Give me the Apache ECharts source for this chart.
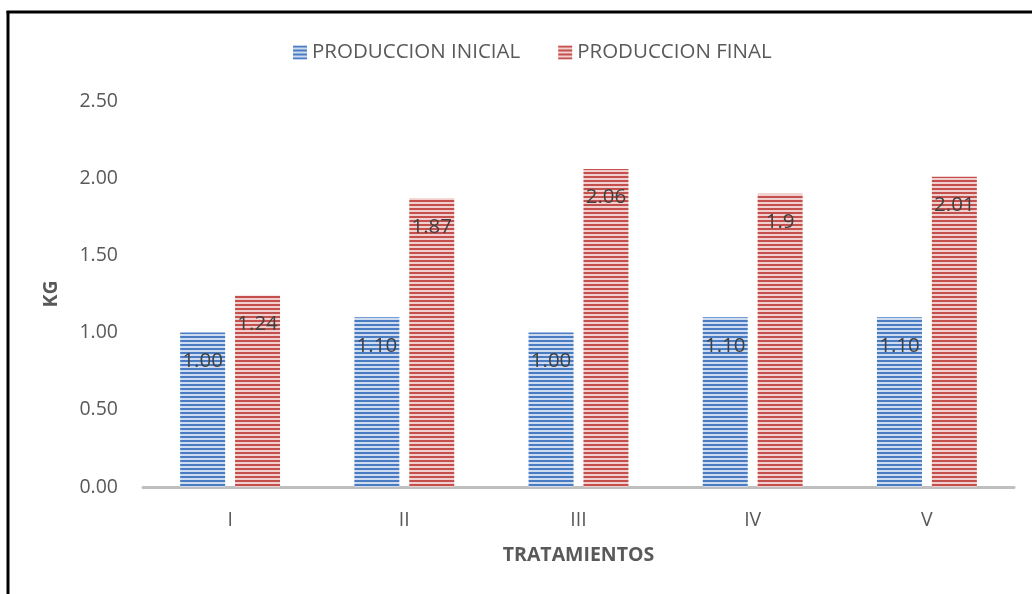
<!DOCTYPE html>
<html>
<head>
    <meta charset="utf-8">
    <title>Produccion</title>
    <script src="https://cdn.jsdelivr.net/npm/echarts@6/dist/echarts.min.js"></script>
    <style>
        html, body { margin: 0; padding: 0; background: #fff; }
        #chart { width: 1032px; height: 594px; }
    </style>
</head>
<body>
<div id="chart"></div>
<script>
    var categories = ['I', 'II', 'III', 'IV', 'V'];
    var inicial = [1.00, 1.10, 1.00, 1.10, 1.10];
    var final = [1.24, 1.87, 2.06, 1.9, 2.01];
    var yTicks = [0, 0.5, 1, 1.5, 2, 2.5];

    // rayas horizontales como en el original
    function stripes(dark, light) {
        var c = document.createElement('canvas');
        c.width = 4; c.height = 4;
        var ctx = c.getContext('2d');
        ctx.fillStyle = light;
        ctx.fillRect(0, 0, 4, 4);
        ctx.fillStyle = dark;
        ctx.fillRect(0, 0, 4, 2);
        return { image: c, repeat: 'repeat' };
    }
    var blue = stripes('#4a7cc4', '#cfdcf0');
    var red = stripes('#c4504e', '#f0cfce');

    var font = '"Open Sans", "Liberation Sans", sans-serif';
    var chart = echarts.init(document.getElementById('chart'));
    chart.setOption({
        animation: false,
        textStyle: { fontFamily: font },
        graphic: [{
            type: 'line',
            shape: { x1: 8, y1: 11, x2: 8, y2: 594 },
            style: { stroke: '#000', lineWidth: 3 }
        }, {
            type: 'line',
            shape: { x1: 6.5, y1: 12, x2: 1032, y2: 12 },
            style: { stroke: '#000', lineWidth: 3 }
        }],
        legend: {
            top: 37,
            left: 288,
            itemWidth: 14,
            itemHeight: 14,
            itemGap: 38,
            icon: 'rect',
            textStyle: { fontSize: 20.5, color: '#595959', fontFamily: font },
            data: ['PRODUCCION INICIAL', 'PRODUCCION FINAL']
        },
        grid: { left: 143, right: 18, top: 101, bottom: 107 },
        xAxis: {
            type: 'category',
            data: categories,
            name: 'TRATAMIENTOS',
            nameLocation: 'middle',
            nameGap: 58,
            nameTextStyle: { fontSize: 19.5, fontWeight: 'bold', color: '#595959' },
            axisLine: { lineStyle: { color: '#bfbfbf', width: 3 } },
            axisTick: { show: false },
            axisLabel: { fontSize: 19.5, color: '#595959', margin: 23 }
        },
        yAxis: {
            type: 'value',
            min: 0,
            max: yTicks[yTicks.length - 1],
            interval: 0.5,
            name: 'KG',
            nameLocation: 'middle',
            nameGap: 82,
            nameRotate: 90,
            nameTextStyle: { fontSize: 19.5, fontWeight: 'bold', color: '#595959' },
            splitLine: { show: false },
            axisLine: { show: false },
            axisTick: { show: false },
            axisLabel: {
                fontSize: 19.5, color: '#595959', margin: 25,
                formatter: function (v) { return v.toFixed(2); }
            }
        },
        series: [{
            name: 'PRODUCCION INICIAL',
            type: 'bar',
            data: inicial,
            barWidth: 45,
            barGap: '22%',
            itemStyle: { color: blue },
            label: {
                show: true, position: 'insideTop', distance: 18,
                fontSize: 20.5, color: '#404040',
                formatter: function (p) { return p.value.toFixed(2); }
            }
        }, {
            name: 'PRODUCCION FINAL',
            type: 'bar',
            data: final,
            barWidth: 45,
            itemStyle: { color: red },
            label: {
                show: true, position: 'insideTop', distance: 18,
                fontSize: 20.5, color: '#404040',
                formatter: function (p) { return String(p.value); }
            }
        }]
    });
</script>
</body>
</html>
